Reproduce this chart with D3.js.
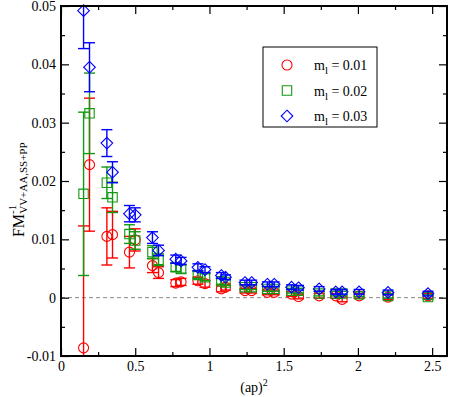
<!DOCTYPE html>
<html>
<head>
<meta charset="utf-8">
<script src="https://cdn.jsdelivr.net/npm/d3@7"></script>
<style>
  body { margin: 0; background: #fff; }
  text { font-family: "Liberation Serif", "Times New Roman", serif; }
</style>
</head>
<body>
<div class="chart"></div>
<script>
// (ap)^2 values shared by all three masses
var ap2 = [0.152, 0.192, 0.309, 0.347, 0.461, 0.500, 0.616, 0.657, 0.773, 0.809,
           0.922, 0.970, 1.080, 1.108, 1.239, 1.284, 1.390, 1.436, 1.553, 1.600,
           1.739, 1.851, 1.894, 2.008, 2.203, 2.472];

var fm001 = [-0.0086, 0.0228, 0.0105, 0.0108, 0.0078, 0.0099, 0.0055, 0.0043, 0.0025, 0.0027,
             0.0029, 0.0024, 0.0015, 0.0018, 0.0012, 0.0012, 0.0009, 0.0009, 0.0006, 0.0002,
             0.0003, 0.0003, -0.0003, 0.0003, 0.0001, 0.0003];
var err001 = [0.0209, 0.0114, 0.0049, 0.0040, 0.0027, 0.0019, 0.0012, 0.0010, 0.0006, 0.0006,
              0.0006, 0.0006, 0.0005, 0.0005, 0.0004, 0.0004, 0.0004, 0.0004, 0.0004, 0.0004,
              0.0004, 0.0004, 0.0004, 0.0004, 0.0004, 0.0004];

var fm002 = [0.0178, 0.0316, 0.0197, 0.0172, 0.0109, 0.0098, 0.0078, 0.0065, 0.0052, 0.0049,
             0.0039, 0.0035, 0.0028, 0.0026, 0.0018, 0.0018, 0.0015, 0.0015, 0.0012, 0.0012,
             0.0007, 0.0007, 0.0007, 0.0006, 0.0003, 0.0001];
var err002 = [0.0140, 0.0069, 0.0027, 0.0026, 0.0016, 0.0015, 0.0011, 0.0010, 0.0007, 0.0007,
              0.0006, 0.0006, 0.0005, 0.0005, 0.0004, 0.0004, 0.0004, 0.0004, 0.0004, 0.0004,
              0.0004, 0.0004, 0.0004, 0.0004, 0.0004, 0.0004];

var fm003 = [0.0492, 0.0395, 0.0265, 0.0215, 0.0144, 0.0142, 0.0103, 0.0081, 0.0066, 0.0063,
             0.0052, 0.0048, 0.0038, 0.0035, 0.0026, 0.0026, 0.0023, 0.0023, 0.0018, 0.0017,
             0.0015, 0.0010, 0.0010, 0.0010, 0.0009, 0.0007];
var err003 = [0.0065, 0.0042, 0.0023, 0.0018, 0.0014, 0.0012, 0.0010, 0.0009, 0.0007, 0.0006,
              0.0006, 0.0005, 0.0005, 0.0004, 0.0004, 0.0004, 0.0004, 0.0004, 0.0004, 0.0004,
              0.0004, 0.0004, 0.0004, 0.0004, 0.0004, 0.0004];

var xMajor = [0, 0.5, 1, 1.5, 2, 2.5];
var xMinor = [0.25, 0.75, 1.25, 1.75, 2.25];
var yMajor = [-0.01, 0, 0.01, 0.02, 0.03, 0.04, 0.05];
var yMinor = [-0.005, 0.005, 0.015, 0.025, 0.035, 0.045];
var xLabels = ["0", "0.5", "1", "1.5", "2", "2.5"];
var yLabels = ["-0.01", "0", "0.01", "0.02", "0.03", "0.04", "0.05"];

var massLabels = ["0.01", "0.02", "0.03"];

var svgWidth = 450;
var svgHeight = 397;
var margin = { top: 6, right: 3, bottom: 41, left: 61 };
var chartWidth = svgWidth - margin.left - margin.right;
var chartHeight = svgHeight - margin.top - margin.bottom;

var series = [
  { name: massLabels[0], y: fm001, err: err001, color: "#ff0000", shape: "circle" },
  { name: massLabels[1], y: fm002, err: err002, color: "#119911", shape: "square" },
  { name: massLabels[2], y: fm003, err: err003, color: "#0000ff", shape: "diamond" }
];

var svg = d3.select(".chart")
  .append("svg")
  .attr("width", svgWidth)
  .attr("height", svgHeight);

var chart = svg.append("g")
  .attr("transform", "translate(" + margin.left + "," + margin.top + ")");

var xScale = d3.scaleLinear().domain([0, 2.6]).range([0, chartWidth]);
var yScale = d3.scaleLinear().domain([-0.01, 0.05]).range([chartHeight, 0]).clamp(true);

// zero line
chart.append("line")
  .attr("x1", 0).attr("x2", chartWidth)
  .attr("y1", yScale(0)).attr("y2", yScale(0))
  .attr("stroke", "#888").attr("stroke-width", 1)
  .attr("stroke-dasharray", "4,3");

function markerPath(shape, cx, cy) {
  if (shape === "circle") {
    var r = 5;
    return "M" + (cx - r) + "," + cy + "a" + r + "," + r + " 0 1,0 " + (2 * r) + ",0" +
           "a" + r + "," + r + " 0 1,0 " + (-2 * r) + ",0Z";
  }
  if (shape === "square") {
    var s = 4.7;
    return "M" + (cx - s) + "," + (cy - s) + "h" + (2 * s) + "v" + (2 * s) + "h" + (-2 * s) + "Z";
  }
  var d = 5.8;
  return "M" + cx + "," + (cy - d) + "L" + (cx + d) + "," + cy + "L" + cx + "," + (cy + d) + "L" + (cx - d) + "," + cy + "Z";
}

var capHalf = 5.5;
var yLo = yScale.domain()[0], yHi = yScale.domain()[1];

series.forEach(function(s) {
  var pts = ap2.map(function(x, i) { return { x: x, y: s.y[i], e: s.err[i] }; });
  var g = chart.append("g");

  var bars = g.append("g")
    .attr("stroke", s.color).attr("stroke-width", 1.4).attr("fill", "none");

  // stems are clamped to the plot range by the scale
  bars.selectAll("line.stem").data(pts).enter().append("line")
    .attr("x1", function(d) { return xScale(d.x); })
    .attr("x2", function(d) { return xScale(d.x); })
    .attr("y1", function(d) { return yScale(d.y - d.e); })
    .attr("y2", function(d) { return yScale(d.y + d.e); });

  [1, -1].forEach(function(sign) {
    var inside = pts.filter(function(d) {
      var v = d.y + sign * d.e;
      return v >= yLo && v <= yHi;
    });
    bars.selectAll("line.cap" + sign).data(inside).enter().append("line")
      .attr("x1", function(d) { return xScale(d.x) - capHalf; })
      .attr("x2", function(d) { return xScale(d.x) + capHalf; })
      .attr("y1", function(d) { return yScale(d.y + sign * d.e); })
      .attr("y2", function(d) { return yScale(d.y + sign * d.e); });
  });

  g.selectAll("path.mark").data(pts).enter().append("path")
    .attr("d", function(d) { return markerPath(s.shape, xScale(d.x), yScale(d.y)); })
    .attr("fill", "none")
    .attr("stroke", s.color)
    .attr("stroke-width", 1.1);
});

// axes: ticks pointing inward on all four sides
function styleAxis(sel) {
  sel.select(".domain").remove();
  sel.selectAll("line").attr("stroke", "#000").attr("stroke-width", 1.2);
  sel.selectAll("text").attr("font-family", "Liberation Serif").attr("font-size", 14).attr("fill", "#000");
}

chart.append("g").attr("transform", "translate(0," + chartHeight + ")")
  .call(d3.axisBottom(xScale).tickValues(xMajor).tickSize(-8).tickPadding(5)
    .tickFormat(function(d, i) { return xLabels[i]; }))
  .call(styleAxis);
chart.append("g").attr("transform", "translate(0," + chartHeight + ")")
  .call(d3.axisBottom(xScale).tickValues(xMinor).tickSize(-4).tickFormat(""))
  .call(styleAxis);
chart.append("g")
  .call(d3.axisTop(xScale).tickValues(xMajor).tickSize(-8).tickFormat(""))
  .call(styleAxis);
chart.append("g")
  .call(d3.axisTop(xScale).tickValues(xMinor).tickSize(-4).tickFormat(""))
  .call(styleAxis);

chart.append("g")
  .call(d3.axisLeft(yScale).tickValues(yMajor).tickSize(-8).tickPadding(5)
    .tickFormat(function(d, i) { return yLabels[i]; }))
  .call(styleAxis);
chart.append("g")
  .call(d3.axisLeft(yScale).tickValues(yMinor).tickSize(-4).tickFormat(""))
  .call(styleAxis);
chart.append("g").attr("transform", "translate(" + chartWidth + ",0)")
  .call(d3.axisRight(yScale).tickValues(yMajor).tickSize(-8).tickFormat(""))
  .call(styleAxis);
chart.append("g").attr("transform", "translate(" + chartWidth + ",0)")
  .call(d3.axisRight(yScale).tickValues(yMinor).tickSize(-4).tickFormat(""))
  .call(styleAxis);

// frame
chart.append("rect")
  .attr("width", chartWidth).attr("height", chartHeight)
  .attr("fill", "none").attr("stroke", "#000").attr("stroke-width", 2);

// x label
var xl = svg.append("text")
  .attr("x", margin.left + xScale(1.3)).attr("y", 392)
  .attr("text-anchor", "middle").attr("font-size", 14);
xl.append("tspan").text("(ap)");
xl.append("tspan").attr("dy", -6).attr("font-size", 10).text("2");

// y label
var yl = svg.append("text")
  .attr("transform", "translate(24," + (margin.top + yScale(0.0185)) + ") rotate(-90)")
  .attr("text-anchor", "middle").attr("font-size", 16);
yl.append("tspan").text("FM");
yl.append("tspan").attr("dy", -8).attr("font-size", 11).text("-1");
yl.append("tspan").attr("dx", -9).attr("dy", 11).attr("font-size", 11).text("VV+AA,SS+PP");

// legend
var legend = svg.append("g").attr("transform", "translate(263,47)");
legend.append("rect")
  .attr("width", 114).attr("height", 80)
  .attr("fill", "#fff").attr("stroke", "#000").attr("stroke-width", 1);

series.forEach(function(s, i) {
  var cy = 18 + i * 25.5;
  legend.append("path")
    .attr("d", markerPath(s.shape, 24, cy))
    .attr("fill", "none").attr("stroke", s.color).attr("stroke-width", 1.1);
  var t = legend.append("text").attr("x", 51).attr("y", cy + 5).attr("font-size", 14);
  t.append("tspan").text("m");
  t.append("tspan").attr("dy", 4).attr("font-size", 11).text("l");
  t.append("tspan").attr("dy", -4).text(" = " + s.name);
});
</script>
</body>
</html>
